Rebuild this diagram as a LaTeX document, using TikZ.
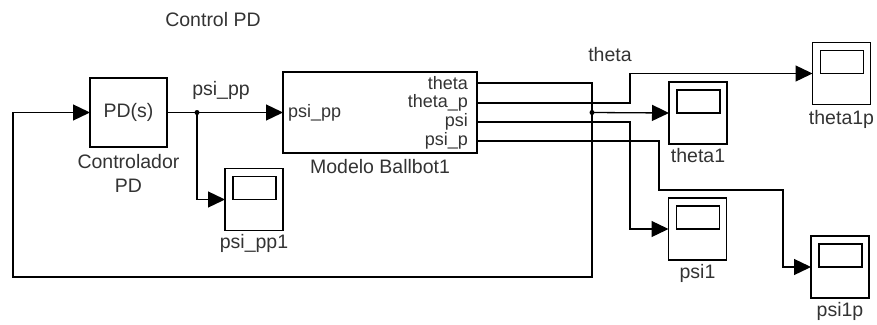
\documentclass[tikz,border=0pt]{standalone}
\usepackage{fontspec}
\setmainfont{Liberation Sans}
\usetikzlibrary{positioning, arrows.meta, calc}

\begin{document}
\begin{tikzpicture}[x=1pt, y=-1pt,
      font=\fontsize{19.5}{24}\selectfont,
      blok/.style={draw, line width=1.3pt, inner sep=0pt, outer sep=0pt},
      scope/.style={blok, minimum width=58pt, minimum height=62pt,
        path picture={\draw[line width=1.3pt]
          ([xshift=8pt,yshift=-8pt]path picture bounding box.north west)
          rectangle ++(43pt,-23pt);}},
      teks/.style={text=black!80, inner sep=1pt},
      port/.style={teks, anchor=east, font=\fontsize{18}{20}\selectfont},
      garis/.style={line width=1.3pt},
      panah/.style={garis, -{Triangle[length=17pt,width=16pt]}},
      titik/.style={circle, fill, inner sep=0pt, minimum size=5pt}
    ]
    \useasboundingbox (0,0) rectangle (877,324);

    % ─── Blocks ──────────────────────────────────────────────────
    \node[teks] (judul) at (213,20) {Control PD};
    \node[blok, minimum width=77pt, minimum height=69pt] (pd) at (128.5,112.5) {\textcolor{black!80}{PD(s)}};
    \node[teks, align=center, below=6pt of pd] (pdlbl) {Controlador\\ PD};
    \node[blok, minimum width=194pt, minimum height=81pt] (bb) at (380,112.5) {};
    \node[teks, below=5pt of bb] (bblbl) {Modelo Ballbot1};

    % ─── Ports of the model ──────────────────────────────────────
    \coordinate (o1) at ([yshift=-11pt]bb.north east);
    \coordinate (o2) at ([yshift=-31pt]bb.north east);
    \coordinate (o3) at ([yshift=-50pt]bb.north east);
    \coordinate (o4) at ([yshift=-69pt]bb.north east);
    \node[port] (p1) at ([xshift=-8pt]o1) {theta};
    \node[port] (p2) at ([xshift=-8pt]o2) {theta\_p};
    \node[port] (p3) at ([xshift=-8pt]o3) {psi};
    \node[port] (p4) at ([xshift=-8pt]o4) {psi\_p};
    \node[port, anchor=west] (pin) at ([xshift=4pt]bb.west) {psi\_pp};

    % ─── Scopes ──────────────────────────────────────────────────
    \node[scope] (sc0) at (254,199.5) {};
    \node[scope] (sc1) at (698,113) {};
    \node[scope] (sc2) at (841.5,73.5) {};
    \node[scope] (sc3) at (697.5,229) {};
    \node[scope] (sc4) at (840,267) {};
    \node[teks, below=3pt of sc0] (sc0lbl) {psi\_pp1};
    \node[teks, below=3pt of sc1] (sc1lbl) {theta1};
    \node[teks, below=5pt of sc2] (sc2lbl) {theta1p};
    \node[teks, below=3pt of sc3] (sc3lbl) {psi1};
    \node[teks, below=3pt of sc4] (sc4lbl) {psi1p};

    % ─── Signal labels ───────────────────────────────────────────
    \node[teks] (lpsipp) at (221,90) {psi\_pp};
    \node[teks] (ltheta) at (610,55) {theta};

    % ─── Arrows ──────────────────────────────────────────────────
    \coordinate (j1) at (197,112.5);
    \coordinate (j2) at (592,112.5);
    \node[titik] at (j1) {};
    \node[titik] at (j2) {};

    % PD -> model, branch to psi_pp1
    \draw[panah] (pd.east) -- (bb.west);
    \draw[panah] (j1) |- (sc0.west);

    % theta: feedback loop and theta1
    \draw[panah] (o1) -| (592,277) -| (13,112.5) -- (pd.west);
    \draw[panah] (j2) -- (sc1.west);

    % theta_p, psi, psi_p
    \draw[panah] (o2) -| (630,73.5) -- (sc2.west);
    \draw[panah] (o3) -| (630,229) -- (sc3.west);
    \draw[panah] (o4) -| (659,190) -| (783,267) -- (sc4.west);
\end{tikzpicture}
\end{document}
